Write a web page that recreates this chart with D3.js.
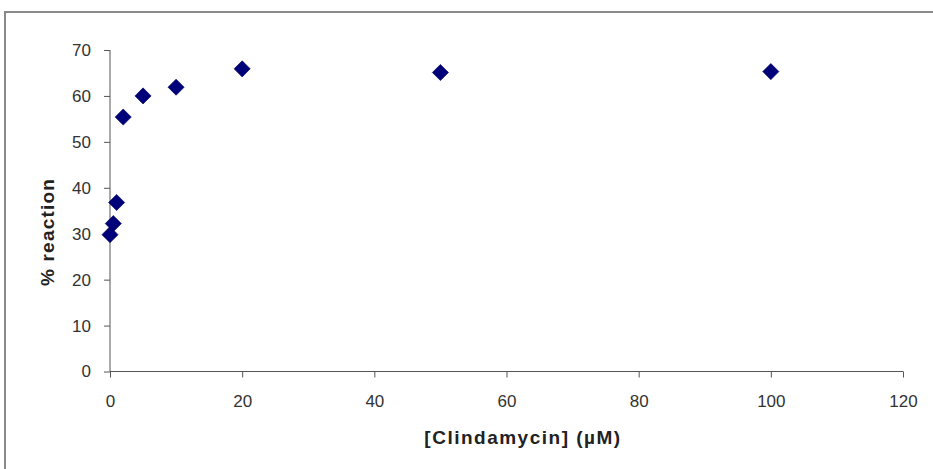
<!DOCTYPE html>
<html>
<head>
<meta charset="utf-8">
<script src="https://cdn.jsdelivr.net/npm/d3@7"></script>
<style>
  body { margin: 0; background: #fff; }
  svg { display: block; }
  .axis text { font-family: "Liberation Sans", Arial, sans-serif; font-size: 17px; fill: #333; }
  .axis path, .axis line { stroke: #555; }
</style>
</head>
<body>
<svg width="933" height="469"></svg>
<script>
// clindamycin concentration (uM) vs % reaction
let conc = [0, 0.5, 1, 2, 5, 10, 20, 50, 100];
let reaction = [29.8, 32.2, 36.8, 55.4, 60.0, 61.9, 65.9, 65.1, 65.3];
let xTicks = [0, 20, 40, 60, 80, 100, 120];
let yTicks = [0, 10, 20, 30, 40, 50, 60, 70];

let svg = d3.select("svg"),
    margin = {top: 50, right: 30, bottom: 97, left: 110},
    width = 903 - margin.left,
    height = 371.5 - margin.top;

// outer frame of the chart area
svg.append("rect")
    .attr("x", 5).attr("y", 12)
    .attr("width", 940).attr("height", 470)
    .attr("fill", "#fff")
    .attr("stroke", "#8a8a8a")
    .attr("stroke-width", 2);

let g = svg.append("g").attr("transform", "translate(" + margin.left + "," + margin.top + ")");

let x = d3.scaleLinear().domain([0, 120]).range([0, width]);
let y = d3.scaleLinear().domain([0, 70]).range([height, 0]);

g.append("g")
    .attr("class", "axis")
    .attr("transform", "translate(0," + height + ")")
    .call(d3.axisBottom(x).tickValues(xTicks).tickSize(6).tickPadding(17))
    .call(a => a.select(".domain").attr("d", "M0,0H" + width));

g.append("g")
    .attr("class", "axis")
    .call(d3.axisLeft(y).tickValues(yTicks).tickSize(6).tickPadding(13))
    .call(a => a.select(".domain").attr("d", "M0,0V" + height));

let data = conc.map((c, i) => ({c: c, r: reaction[i]}));

g.append("g")
  .selectAll("path")
  .data(data)
  .enter().append("path")
    .attr("d", d3.symbol().type(d3.symbolSquare).size(130))
    .attr("transform", d => "translate(" + x(d.c) + "," + y(d.r) + ") rotate(45)")
    .attr("fill", "#00007a")
    .attr("stroke", "#000050")
    .attr("stroke-width", 0.6);

svg.append("text")
    .attr("x", 523)
    .attr("y", 444)
    .attr("text-anchor", "middle")
    .attr("font-family", "Liberation Sans, Arial, sans-serif")
    .attr("font-size", 19)
    .attr("font-weight", "bold")
    .attr("letter-spacing", 1.5)
    .attr("fill", "#222")
    .text("[Clindamycin] (µM)");

svg.append("text")
    .attr("transform", "translate(54,232) rotate(-90)")
    .attr("text-anchor", "middle")
    .attr("font-family", "Liberation Sans, Arial, sans-serif")
    .attr("font-size", 19)
    .attr("font-weight", "bold")
    .attr("letter-spacing", 1.2)
    .attr("fill", "#222")
    .text("% reaction");
</script>
</body>
</html>
